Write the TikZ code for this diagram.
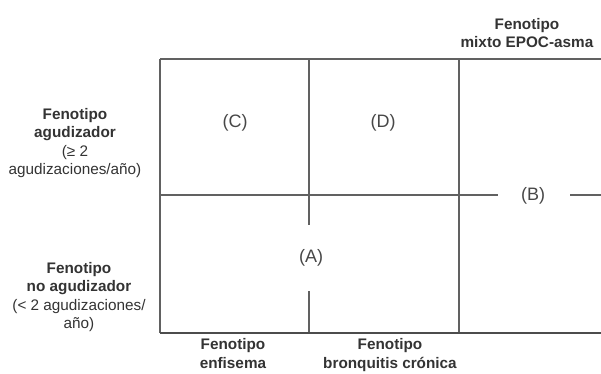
\documentclass[tikz,border=0pt]{standalone}
\usepackage{fontspec}
\setmainfont{Liberation Sans}
\begin{document}
\begin{tikzpicture}[x=1pt,y=-1pt,
  grid/.style={draw=black!62,line width=1.4pt},
  base/.style={draw=black!70,line width=2.6pt},
  axislabel/.style={align=center,text=black!80,font=\fontsize{15.3}{18.3}\selectfont,inner sep=0pt},
  cell/.style={text=black!72,font=\fontsize{18}{20}\selectfont,inner sep=0pt}]
\useasboundingbox (0,0) rectangle (601,373);
% quadrant labels
\node[cell] (C) at (235,123) {(C)};
\node[cell] (D) at (383,123) {(D)};
\node[cell] (A) at (311,258) {(A)};
\node[cell] (B) at (533,196) {(B)};
% frame coordinates
\coordinate (tl) at (160,59);
\coordinate (tr) at (601,59);
\coordinate (bl) at (160,333);
\coordinate (br) at (601,333);
\coordinate (mt) at (309,59);
\coordinate (ma) at (309,225);
\coordinate (mb) at (309,291);
\coordinate (mbot) at (309,333);
\coordinate (rt) at (459,59);
\coordinate (rb) at (459,333);
\coordinate (hl) at (160,195);
\coordinate (hb1) at (498,195);
\coordinate (hb2) at (570,195);
\coordinate (hr) at (601,195);
% grid
\draw[grid] (tl) -- (tr);
\draw[grid] (tl) -- (bl);
\draw[grid] (mt) -- (ma);
\draw[grid] (mb) -- (mbot);
\draw[grid] (rt) -- (rb);
\draw[grid] (hl) -- (hb1);
\draw[grid] (hb2) -- (hr);
\draw[base] (bl) -- (br);
% axis labels
\node[axislabel] (exac) at (75,143) {\textbf{Fenotipo}\\\textbf{agudizador}\\(≥ 2\\agudizaciones/año)};
\node[axislabel] (noexac) at (79,297) {\textbf{Fenotipo}\\\textbf{no agudizador}\\(< 2 agudizaciones/\\año)};
\node[axislabel] (mixto) at (527,33) {\textbf{Fenotipo}\\\textbf{mixto EPOC-asma}};
\node[axislabel,anchor=north] (enf) at (233,338.5) {\textbf{Fenotipo}\\\textbf{enfisema}};
\node[axislabel,anchor=north] (bron) at (390,338.5) {\textbf{Fenotipo}\\\textbf{bronquitis crónica}};
\end{tikzpicture}
\end{document}
